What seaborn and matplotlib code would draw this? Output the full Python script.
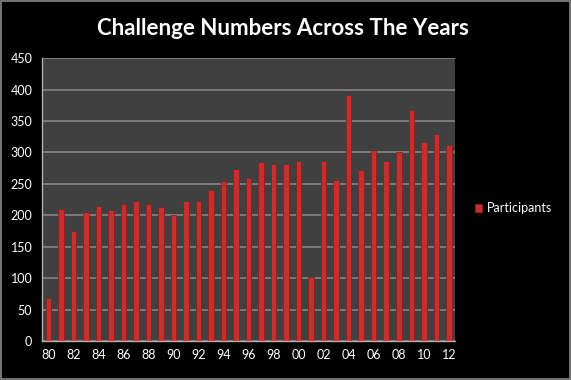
import matplotlib
matplotlib.use("Agg")
import matplotlib.pyplot as plt
import seaborn as sns
import pandas as pd
from matplotlib.patches import Rectangle

years = ["80", "81", "82", "83", "84", "85", "86", "87", "88", "89",
         "90", "91", "92", "93", "94", "95", "96", "97", "98", "99",
         "00", "01", "02", "03", "04", "05", "06", "07", "08", "09",
         "10", "11", "12"]
participants = [69, 210, 175, 206, 215, 208, 218, 222, 218, 213,
                200, 222, 222, 241, 254, 274, 259, 284, 282, 282,
                287, 102, 287, 256, 391, 272, 304, 287, 300, 368,
                317, 330, 312]

df = pd.DataFrame({"year": years, "Participants": participants})

sns.set_theme(style="dark")
plt.rcParams["font.family"] = ["Lato", "DejaVu Sans"]

fig = plt.figure(figsize=(5.71, 3.80), dpi=100, facecolor="black")
ax = fig.add_axes([0.0736, 0.1026, 0.7234, 0.7444])
ax.set_facecolor("#404040")

sns.barplot(data=df, x="year", y="Participants", order=years, color="#c4302e",
            width=0.44, saturation=1, edgecolor="#901f1d", linewidth=0.6,
            label="Participants", ax=ax)

ax.set_ylim(0, 450)
ax.set_xlim(-0.5, len(years) - 0.5)
ax.set_yticks(range(0, 451, 50))
ax.set_yticklabels([str(v) for v in range(0, 451, 50)], color="white", fontsize=9)
ax.set_xticks(range(0, len(years), 2))
ax.set_xticklabels(years[::2], color="white", fontsize=9)
ax.set_xticks([i - 0.5 for i in range(len(years) + 1)], minor=True)
ax.tick_params(axis="x", which="major", length=0, pad=6)
ax.tick_params(axis="x", which="minor", length=4, color="#b0b0b0", width=1, direction="out")
ax.tick_params(axis="y", length=4, color="#b0b0b0", width=1, direction="out", pad=3)
ax.set_xlabel("")
ax.set_ylabel("")
ax.grid(axis="y", color="#858585", linewidth=1.2)
ax.set_axisbelow(True)
for side in ["top", "right"]:
    ax.spines[side].set_visible(False)
for side in ["left", "bottom"]:
    ax.spines[side].set_color("#b0b0b0")
    ax.spines[side].set_linewidth(1)

leg = ax.legend(loc="center left", bbox_to_anchor=(1.02, 0.47), frameon=False,
                fontsize=9, handlelength=0.6, handleheight=0.6, handletextpad=0.4)
for t in leg.get_texts():
    t.set_color("white")

fig.text(0.496, 0.925, "Challenge Numbers Across The Years", color="white",
         fontsize=16, fontweight="bold", ha="center", va="center")

fig.patches.append(Rectangle((0.002, 0.003), 0.996, 0.994, transform=fig.transFigure,
                             fill=False, edgecolor="#8a8a8a", linewidth=1.2))

fig.savefig("out.png", dpi=100, facecolor="black")
